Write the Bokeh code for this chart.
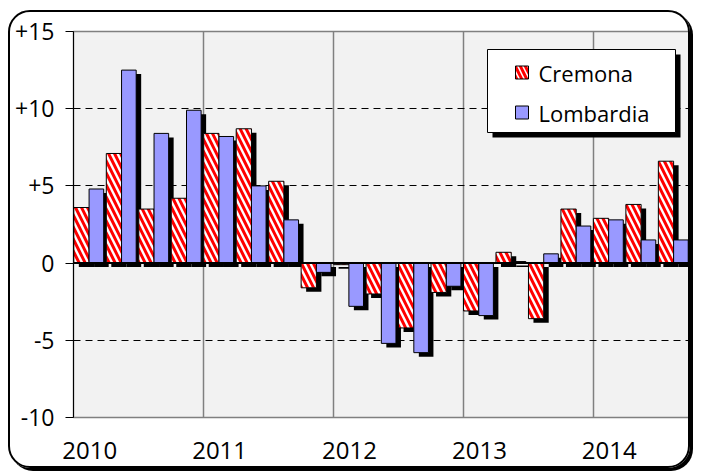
import numpy as np
from bokeh.plotting import figure
from bokeh.models import FixedTicker, Span
from bokeh.core.properties import value
from bokeh.embed import file_html
from bokeh.resources import INLINE

# ---- data ----
years = ["2010", "2011", "2012", "2013", "2014"]
series_names = ["Cremona", "Lombardia"]
cremona = [3.6, 7.1, 3.5, 4.2, 8.4, 8.7, 5.3, -1.6, -0.1, -2.0, -4.2, -1.9,
           -3.1, 0.7, -3.6, 3.5, 2.9, 3.8, 6.6]
lombardia = [4.8, 12.5, 8.4, 9.9, 8.2, 5.0, 2.8, -0.6, -2.8, -5.2, -5.8, -1.5,
             -3.4, 0.1, 0.6, 2.4, 2.8, 1.5, 1.5]
y_ticks = [-10, -5, 0, 5, 10, 15]
y_tick_labels = ["-10", "-5", "0", "+5", "+10", "+15"]

# ---- styling ----
FONT = "Open Sans"
RED = "#ff0000"
BLUE = "#9999ff"
n = len(cremona)
ymin, ymax = -10, 15
FRAME_W, FRAME_H = 617, 386
px_x = n / FRAME_W              # data units per pixel (x)
px_y = (ymax - ymin) / FRAME_H  # data units per pixel (y)

p = figure(width=682, height=458, x_range=(0, n), y_range=(ymin, ymax),
           output_backend="svg", toolbar_location=None,
           min_border_left=63, min_border_right=2, min_border_top=19,
           min_border_bottom=53)
p.styles = {"border": "2px solid black", "border-radius": "22px",
            "box-shadow": "3px 3px 0 0 black",
            "margin-left": "8px", "margin-top": "10px"}
p.border_fill_alpha = 0
p.background_fill_color = "#f2f2f2"
p.outline_line_color = "#808080"
p.outline_line_width = 1.5

idx = np.arange(n)
c = np.array(cremona)
l = np.array(lombardia)
c_left, c_right = idx + 0.01, idx + 0.48
l_left, l_right = idx + 0.48, idx + 0.93
dx, dy = 5 * px_x, 4 * px_y

# shadows
for left, right, v in ((c_left, c_right, c), (l_left, l_right, l)):
    p.quad(left=left + dx, right=right + dx,
           top=np.maximum(v, 0) - dy, bottom=np.minimum(v, 0) - dy,
           fill_color="black", line_color=None)

# bars
p.quad(left=c_left, right=c_right, top=np.maximum(c, 0), bottom=np.minimum(c, 0),
       fill_color="white", hatch_pattern="\\", hatch_color=RED,
       hatch_weight=3, hatch_scale=12, line_color="black", line_width=1)
p.quad(left=l_left, right=l_right, top=np.maximum(l, 0), bottom=np.minimum(l, 0),
       fill_color=BLUE, line_color="black", line_width=1)

p.add_layout(Span(location=0, dimension="width", line_color="black", line_width=2))

# legend (drawn manually to reproduce the drop shadow)
lg_right = n - 15 * px_x
lg_left = lg_right - 188 * px_x
lg_top = ymax - 18 * px_y
lg_bottom = lg_top - 83 * px_y
p.quad(left=[lg_left + 5 * px_x], right=[lg_right + 5 * px_x],
       top=[lg_top - 5 * px_y], bottom=[lg_bottom - 5 * px_y],
       fill_color="black", line_color=None)
p.quad(left=[lg_left], right=[lg_right], top=[lg_top], bottom=[lg_bottom],
       fill_color="white", line_color="black", line_width=1)
row_y = [lg_top - 23 * px_y, lg_top - 63 * px_y]
sq_l = lg_left + 28 * px_x
sq_r = sq_l + 13 * px_x
half = 6.5 * px_y
p.quad(left=[sq_l], right=[sq_r], top=[row_y[0] + half], bottom=[row_y[0] - half],
       fill_color="white", hatch_pattern="\\", hatch_color=RED, hatch_weight=3,
       hatch_scale=10, line_color="black", line_width=1)
p.quad(left=[sq_l], right=[sq_r], top=[row_y[1] + half], bottom=[row_y[1] - half],
       fill_color=BLUE, line_color="black", line_width=1)
p.text(x=[lg_left + 51 * px_x] * 2, y=row_y, text=series_names,
       text_font=value(FONT), text_font_size="22px", text_color="black",
       text_baseline="middle", text_align="left")

# axes
p.yaxis.ticker = FixedTicker(ticks=y_ticks)
p.yaxis.major_label_overrides = dict(zip(y_ticks, y_tick_labels))
p.yaxis.major_tick_out = 8
p.yaxis.major_tick_in = 0
p.yaxis.minor_tick_line_color = None
p.yaxis.axis_line_color = "black"
p.yaxis.major_tick_line_color = "black"
p.yaxis.major_label_standoff = 11
p.yaxis.major_label_text_font = FONT
p.yaxis.major_label_text_font_size = "23px"
p.yaxis.major_label_text_color = "black"

x_ticks = [4 * i + 0.5 for i in range(len(years))]
p.xaxis.ticker = FixedTicker(ticks=x_ticks)
p.xaxis.major_label_overrides = dict(zip(x_ticks, years))
p.xaxis.major_tick_out = 0
p.xaxis.major_tick_in = 0
p.xaxis.minor_tick_line_color = None
p.xaxis.axis_line_color = None
p.xaxis.major_label_standoff = 24
p.xaxis.major_label_text_font = FONT
p.xaxis.major_label_text_font_size = "24px"
p.xaxis.major_label_text_color = "black"

# grids
p.xgrid.ticker = FixedTicker(ticks=[4 * i for i in range(1, len(years))])
p.xgrid.grid_line_color = "#808080"
p.xgrid.grid_line_width = 1.5
p.xgrid.grid_line_alpha = 1
p.ygrid.ticker = FixedTicker(ticks=[-5, 5, 10])
p.ygrid.grid_line_color = "black"
p.ygrid.grid_line_dash = "7 5"
p.ygrid.grid_line_width = 1

open("out.html", "w").write(file_html(p, INLINE))
